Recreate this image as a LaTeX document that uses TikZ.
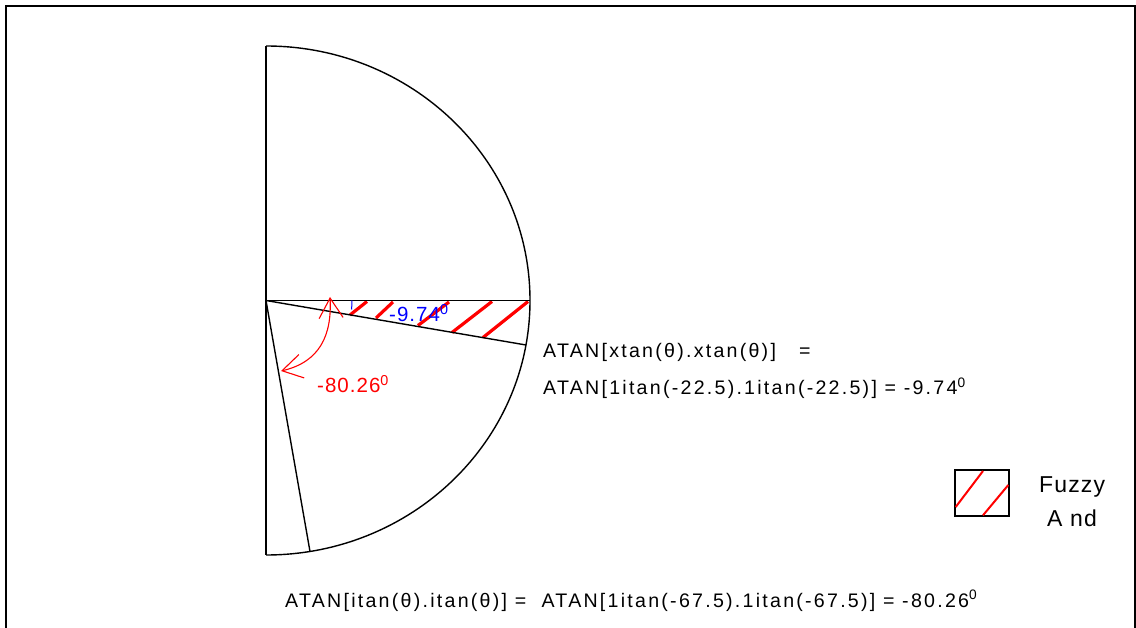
\documentclass[tikz,border=0pt]{standalone}
\usepackage{fontspec}
\setmainfont{Liberation Sans}
\newfontfamily\spaced[LetterSpace=11.5]{Liberation Sans}
\newfontfamily\lightspaced[LetterSpace=5]{Liberation Sans}
\usetikzlibrary{arrows.meta}
\begin{document}
\begin{tikzpicture}[x=1pt,y=-1pt,
  edge/.style={line width=1.4pt, black},
  frameline/.style={line width=2pt, black},
  hatch/.style={red, line width=3.2pt},
  eq/.style={anchor=base west, inner sep=0pt, font=\spaced\fontsize{19.6}{22}\selectfont},
  anglelabel/.style={anchor=base west, inner sep=0pt, font=\lightspaced\fontsize{20.5}{24}\selectfont},
  legendtext/.style={anchor=base west, inner sep=0pt, font=\lightspaced\fontsize{23}{26}\selectfont},
  barb/.tip={Straight Barb[length=20pt,width=24pt]}]
\useasboundingbox (0,0) rectangle (1136,628);
% frame
\draw[frameline] (6,640) -- (6,6) -- (1134.5,6) -- (1134.5,640);
% geometry
\coordinate (O) at (266,300.5);
\coordinate (T) at (266,46);
\coordinate (B) at (266,555);
\coordinate (R) at (530,300.5);
\coordinate (P) at (526,345);
\coordinate (Q) at (310,551.5);
% hatching of the fuzzy-and region
\draw[hatch] (350,315) -- (367,301.5);
\draw[hatch] (376,318) -- (393,302);
\draw[hatch] (418,325.5) -- (449,302);
\draw[hatch] (452,332.5) -- (492,301.5);
\draw[hatch] (483,337.5) -- (528,301.5);
% half disc
\draw[edge] (T) arc[start angle=-90, end angle=90, x radius=264, y radius=254.5];
\draw[edge] (T) -- (B);
\draw[edge] (O) -- (R);
\draw[edge] (O) -- (P);
\draw[edge] (O) -- (Q);
% angle marks
\draw[blue, line width=1pt] (352,300.5) arc[start angle=0, end angle=6, radius=86];
\coordinate (A1) at (281,371);
\coordinate (A2) at (330,297);
\draw[red, line width=1.1pt, barb-barb] (A1) .. controls (320,362) and (332,335) .. (A2);
% labels
\node[anglelabel, text=blue] (lab974) at (389,322) {-9.74\textsuperscript{0}};
\node[anglelabel, text=red] (lab8026) at (317,393) {-80.26\textsuperscript{0}};
\node[eq] (eq1) at (543,358) {ATAN[xtan(θ).xtan(θ)]\ \ \ =};
\node[eq] (eq2) at (543,395) {ATAN[1itan(-22.5).1itan(-22.5)] = -9.74\textsuperscript{0}};
\node[eq] (eq3) at (285,607) {ATAN[itan(θ).itan(θ)]\ = \ ATAN[1itan(-67.5).1itan(-67.5)] = -80.26\textsuperscript{0}};
% legend
\node[draw, line width=1.4pt, minimum width=54pt, minimum height=46pt, inner sep=0pt] (legend) at (982,493) {};
\draw[hatch, line width=2pt] (955.7,507) -- (983,471);
\draw[hatch, line width=2pt] (983,515.3) -- (1008.3,485);
\node[legendtext] (fuzzy) at (1039,492) {Fuzzy};
\node[legendtext] (and) at (1047,526) {A nd};
\end{tikzpicture}
\end{document}
